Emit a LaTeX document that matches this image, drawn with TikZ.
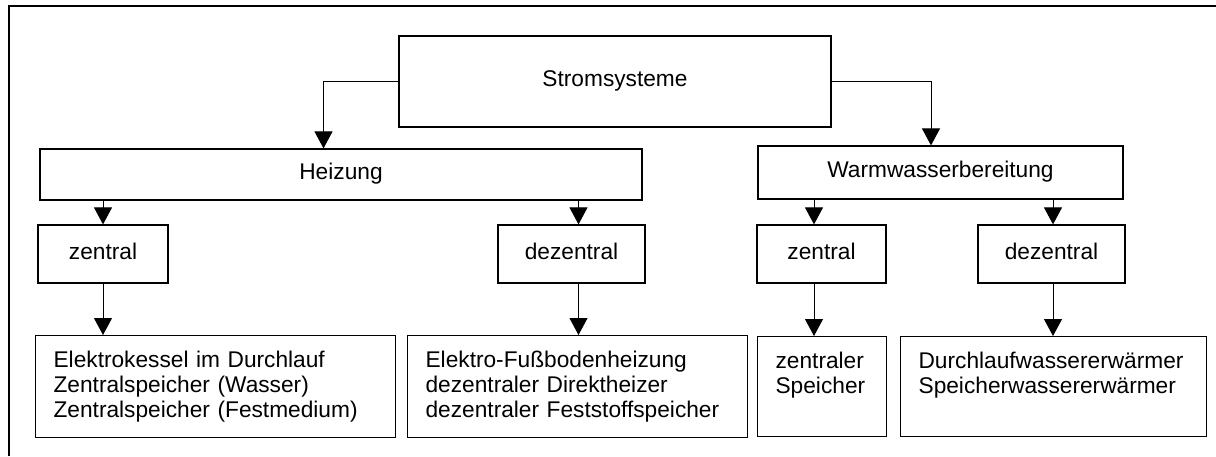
\documentclass[tikz,border=0pt]{standalone}
\usepackage{fontspec}
\setmainfont{Liberation Sans}
\usepackage{tikz}
\usetikzlibrary{arrows, arrows.meta}
\usetikzlibrary{positioning}
\usetikzlibrary{calc}

\begin{document}
\begin{tikzpicture}[x=0.5pt, y=-0.5pt,
	font=\fontsize{11.35pt}{12.5pt}\selectfont,
	box/.style={draw=black, line width=0.6pt, inner sep=0pt, text height=8.2pt, text depth=3pt},
	listbox/.style={draw=black, line width=0.6pt, anchor=north west, align=left, inner xsep=9pt, inner ysep=0pt, text height=16pt},
	arr/.style={-{Triangle[length=8.5pt, width=9pt]}, line width=0.5pt}]
	\useasboundingbox (0,0) rectangle (1216,456);
	\draw[line width=1.3pt] (9,456) -- (9,6) -- (1216,6);
	% top level
	\node[box, minimum width=216pt, minimum height=45.5pt] (strom) at (615,81.5) {Stromsysteme};
	\node[box, minimum width=301pt, minimum height=25.5pt] (heiz) at (341,174.5) {Heizung};
	\node[box, minimum width=182.5pt, minimum height=26.5pt] (warm) at (940.5,172.5) {Warmwasserbereitung};
	% zentral / dezentral
	\node[box, minimum width=65pt, minimum height=29pt] (hz) at (103,254) {zentral};
	\node[box, minimum width=73.5pt, minimum height=29pt] (hdz) at (571.5,254) {dezentral};
	\node[box, minimum width=64.5pt, minimum height=29pt] (wz) at (821.5,254) {zentral};
	\node[box, minimum width=73.5pt, minimum height=29pt] (wdz) at (1051.5,254) {dezentral};
	% lists
	\node[listbox, text width=162pt, text depth=35pt] (elk) at (35,335) {Elektrokessel im Durchlauf\\Zentralspeicher (Wasser)\\Zentralspeicher (Festmedium)};
	\node[listbox, text width=152pt, text depth=35pt] (fbh) at (407,335) {Elektro-Fußbodenheizung\\dezentraler Direktheizer\\dezentraler Feststoffspeicher};
	\node[listbox, text width=46.5pt, text depth=34pt] (zsp) at (757,336) {zentraler\\Speicher};
	\node[listbox, text width=135pt, text depth=34pt] (dlw) at (900,336) {Durchlaufwassererwärmer\\Speicherwassererwärmer};
	% arrows
	\draw[arr] (strom.west) -| ([xshift=-8.75pt]heiz.north);
	\draw[arr] (strom.east) -| ([xshift=-4.75pt]warm.north);
	\draw[arr] (hz.north |- heiz.south) -- (hz.north);
	\draw[arr] ([xshift=3.5pt]hdz.north |- heiz.south) -- ([xshift=3.5pt]hdz.north);
	\draw[arr] ([xshift=-3.75pt]wz.north |- warm.south) -- ([xshift=-3.75pt]wz.north);
	\draw[arr] ([xshift=0.75pt]wdz.north |- warm.south) -- ([xshift=0.75pt]wdz.north);
	\draw[arr] (hz.south) -- (hz.south |- elk.north);
	\draw[arr] ([xshift=3.5pt]hdz.south) -- ([xshift=3.5pt]hdz.south |- fbh.north);
	\draw[arr] ([xshift=-3.75pt]wz.south) -- ([xshift=-3.75pt]wz.south |- zsp.north);
	\draw[arr] ([xshift=0.75pt]wdz.south) -- ([xshift=0.75pt]wdz.south |- dlw.north);
\end{tikzpicture}
\end{document}
